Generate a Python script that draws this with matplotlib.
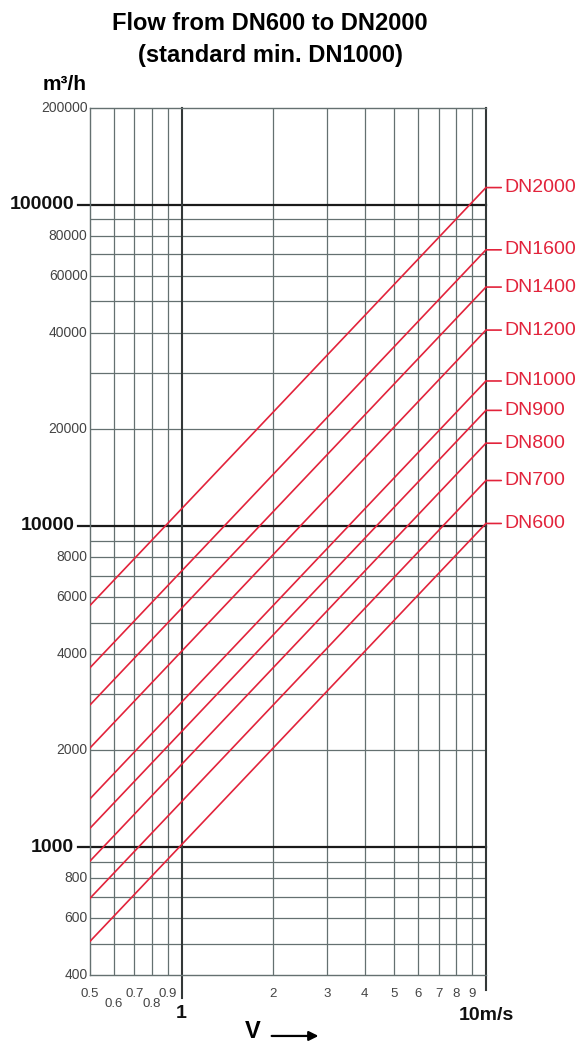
import numpy as np
import matplotlib.pyplot as plt
from matplotlib.transforms import blended_transform_factory

plt.rcParams['font.family'] = ['Liberation Sans', 'DejaVu Sans']

# flow (m3/h) at 0.5 m/s and at 10 m/s
pipes = ['DN600', 'DN700', 'DN800', 'DN900', 'DN1000',
         'DN1200', 'DN1400', 'DN1600', 'DN2000']
q_start = [509, 693, 905, 1145, 1414, 2036, 2771, 3619, 5655]
q_end = [10180, 13850, 18100, 22900, 28270, 40720, 55420, 72380, 113100]
v_range = [0.5, 10]

# grid
y_minor = [500, 600, 700, 800, 900,
           2000, 3000, 4000, 5000, 6000, 7000, 8000, 9000,
           20000, 30000, 40000, 50000, 60000, 70000, 80000, 90000]
y_major = [1000, 10000, 100000]
x_minor = [0.6, 0.7, 0.8, 0.9, 2, 3, 4, 5, 6, 7, 8, 9]

# tick labels
y_small_labels = [400, 600, 800, 2000, 4000, 6000, 8000,
                  20000, 40000, 60000, 80000, 200000]
x_small_labels = ['0.5', '0.6', '0.7', '0.8', '0.9',
                  '2', '3', '4', '5', '6', '7', '8', '9']
x_small_pos = [0.5, 0.6, 0.7, 0.8, 0.9, 2, 3, 4, 5, 6, 7, 8, 9]

red = '#e2233b'
grid_c = '#647070'

fig = plt.figure(figsize=(5.82, 10.46), dpi=100)
ax = fig.add_axes([0.1546, 0.0679, 0.6804, 0.8288])
ax.set_xscale('log')
ax.set_yscale('log')
ax.set_xlim(0.5, 10)
ax.set_ylim(400, 200000)
ax.set_xticks([])
ax.set_yticks([])
ax.minorticks_off()
for s in ['left', 'top', 'bottom']:
    ax.spines[s].set_color(grid_c)
    ax.spines[s].set_linewidth(1)
ax.spines['right'].set_visible(False)

for y in y_minor:
    ax.axhline(y, color=grid_c, lw=0.9, zorder=1)
for x in x_minor:
    ax.axvline(x, color=grid_c, lw=0.9, zorder=1)

xt = blended_transform_factory(ax.transData, ax.transAxes)
yt = blended_transform_factory(ax.transAxes, ax.transData)

# heavy lines
for y in y_major:
    ax.plot([-0.03, 1], [y, y], transform=yt, color='#1a1a1a', lw=1.6,
            clip_on=False, zorder=2)
ax.plot([1, 1], [-0.026, 1], transform=xt, color='#333838', lw=1.5,
        clip_on=False, zorder=2)
ax.plot([10, 10], [-0.017, 1], transform=xt, color='#333838', lw=1.5,
        clip_on=False, zorder=2)

# flow lines with labels
for name, q0, q1 in zip(pipes, q_start, q_end):
    ax.plot(v_range, [q0, q1], color=red, lw=1.2, zorder=3)
    ax.annotate(name, xy=(10, q1), xytext=(13, 0), textcoords='offset points',
                ha='left', va='center', fontsize=14, color=red,
                annotation_clip=False,
                arrowprops=dict(arrowstyle='-', color=red, lw=1.2,
                                shrinkA=0, shrinkB=0))

# y tick labels
for y in y_small_labels:
    ax.text(-0.006, y, str(y), transform=yt, ha='right', va='center',
            fontsize=10, color='#444444')
for y in y_major:
    ax.text(-0.04, y, str(y), transform=yt, ha='right', va='center',
            fontsize=14, fontweight='bold', color='#111111')

# x tick labels
for lab, x in zip(x_small_labels, x_small_pos):
    dy = -0.034 if lab in ('0.6', '0.8') else -0.022
    ax.text(x, dy, lab, transform=xt, ha='center', va='center',
            fontsize=9.5, color='#444444')
ax.text(1, -0.045, '1', transform=xt, ha='center', va='center',
        fontsize=14, fontweight='bold', color='#111111')
ax.text(10, -0.047, '10m/s', transform=xt, ha='center', va='center',
        fontsize=14, fontweight='bold', color='#111111')

# axis names
fig.text(0.073, 0.919, 'm³/h', ha='left', va='center', fontsize=15,
         fontweight='bold')
fig.text(0.435, 0.003, 'V', ha='center', va='bottom', fontsize=17,
         fontweight='bold')
fig.add_artist(plt.Annotation('', xy=(0.552, 0.0096), xytext=(0.462, 0.0096),
                              xycoords='figure fraction',
                              arrowprops=dict(arrowstyle='-|>', color='black',
                                              lw=1.6, mutation_scale=14)))

fig.text(0.464, 0.978, 'Flow from DN600 to DN2000', ha='center', va='center',
         fontsize=17, fontweight='bold')
fig.text(0.464, 0.947, '(standard min. DN1000)', ha='center', va='center',
         fontsize=17, fontweight='bold')

fig.savefig('out.png', dpi=100)
